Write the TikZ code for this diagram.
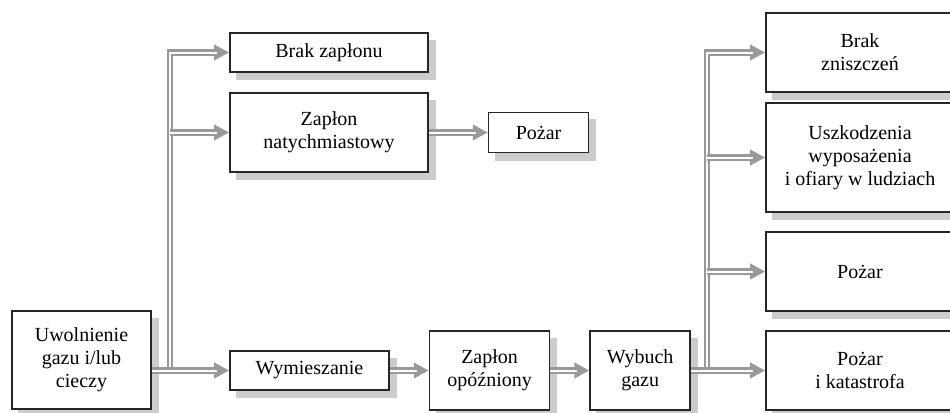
\documentclass[tikz,border=0pt]{standalone}
\usepackage{fontspec}
\setmainfont{Liberation Serif}
\usetikzlibrary{arrows.meta,positioning,backgrounds}

\begin{document}
\begin{tikzpicture}[
  x=0.5pt, y=-0.5pt,
  font=\fontsize{10}{11.5}\selectfont,
  node distance=19.5pt,
  box/.style={draw=black!85, line width=0.8pt, fill=white, align=center, inner sep=2pt},
  shade/.style={fill=black!20},
  pipe/.style={draw=black!40, line width=3.2pt,
    postaction={draw=white, line width=1pt, -, shorten >=#1}},
  pipe/.default=0pt,
  arr/.style={pipe=6pt, -{Triangle[length=7.5pt, width=7.5pt]}}
]
\useasboundingbox (0,0) rectangle (950,413);
\clip (0,0) rectangle (950,413);

% left part
\node[box, minimum width=69.5pt, minimum height=49pt] (src) at (81.5,360) {Uwolnienie\\gazu i/lub\\cieczy};
\node[box, minimum width=99pt, minimum height=19.5pt] (noign) at (329,52.5) {Brak zapłonu};
\node[box, minimum width=99pt, minimum height=39.5pt] (instant) at (329,132.5) {Zapłon\\natychmiastowy};
\node[box, minimum width=50pt, minimum height=20pt, right=29.5pt of instant] (fire) {Pożar};

% bottom row
\node[box, minimum width=79.5pt, minimum height=19.5pt] (mix) at (309.5,370.5) {Wymieszanie};
\node[box, minimum width=60pt, minimum height=39.5pt, right=of mix] (delayed) {Zapłon\\opóźniony};
\node[box, minimum width=50pt, minimum height=39.5pt, right=of delayed] (blast) {Wybuch\\gazu};

% outcomes
\node[box, minimum width=94pt, minimum height=39.5pt] (nodmg) at (860,52.5) {Brak\\zniszczeń};
\node[box, minimum width=94pt, minimum height=54.5pt] (victims) at (860,157.5) {Uszkodzenia\\wyposażenia\\i ofiary w ludziach};
\node[box, minimum width=94pt, minimum height=39.5pt] (fire2) at (860,271.5) {Pożar};
\node[box, minimum width=94pt, minimum height=39.5pt] (disaster) at (860,370.5) {Pożar\\i katastrofa};

\begin{scope}[on background layer]
\foreach \n in {src,noign,instant,fire,mix,delayed,blast,nodmg,victims,fire2,disaster}
  \fill[shade] ([shift={(3.5pt,-3.75pt)}]\n.south west) rectangle ([shift={(3.5pt,-3.75pt)}]\n.north east);
\end{scope}

\coordinate (lsplit) at (170,0);
\coordinate (rsplit) at (707,0);

\draw[arr] (lsplit |- mix.west) |- (noign.west);
\draw[arr] (lsplit |- instant.west) -- (instant.west);
\draw[arr] (src.east |- mix.west) -- (mix.west);
\draw[arr] (instant.east |- fire.west) -- (fire.west);
\draw[arr] (mix) -- (delayed);
\draw[arr] (delayed) -- (blast);

\draw[arr] (rsplit |- disaster.west) |- (nodmg.west);
\draw[arr] (rsplit |- victims.west) -- (victims.west);
\draw[arr] (rsplit |- fire2.west) -- (fire2.west);
\draw[arr] (blast) -- (disaster);
\end{tikzpicture}
\end{document}
